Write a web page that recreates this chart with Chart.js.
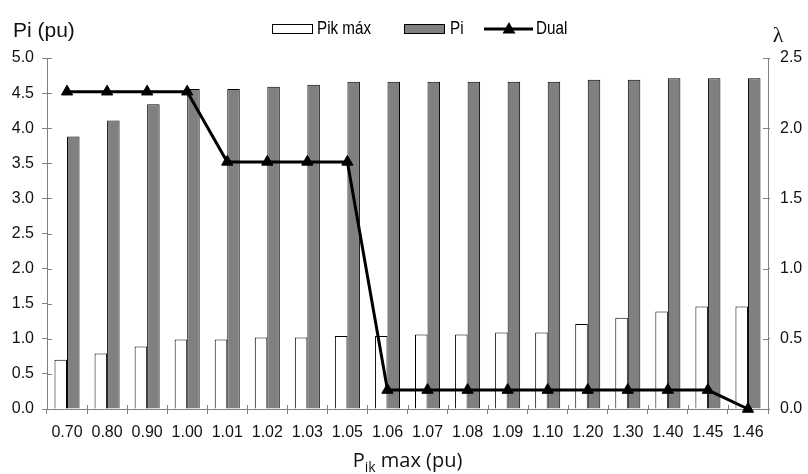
<!DOCTYPE html>
<html>
<head>
<meta charset="utf-8">
<script src="https://cdn.jsdelivr.net/npm/chart.js@4.4.1/dist/chart.umd.min.js"></script>
<style>
  html, body { margin: 0; padding: 0; background: #fff; }
  #wrap { width: 808px; height: 474px; }
</style>
</head>
<body>
<div id="wrap"><canvas id="piChart" width="808" height="474"></canvas></div>
<script>
const categories = ['0.70', '0.80', '0.90', '1.00', '1.01', '1.02', '1.03', '1.05', '1.06',
  '1.07', '1.08', '1.09', '1.10', '1.20', '1.30', '1.40', '1.45', '1.46'];
const pikMax = [0.70, 0.79, 0.89, 0.99, 0.99, 1.02, 1.02, 1.04, 1.04,
  1.06, 1.06, 1.09, 1.09, 1.21, 1.30, 1.39, 1.46, 1.46];
const pi = [3.88, 4.11, 4.34, 4.56, 4.56, 4.59, 4.62, 4.66, 4.66,
  4.66, 4.66, 4.66, 4.66, 4.69, 4.69, 4.71, 4.71, 4.71];
const dual = [2.26, 2.26, 2.26, 2.26, 1.76, 1.76, 1.76, 1.76, 0.135,
  0.135, 0.135, 0.135, 0.135, 0.135, 0.135, 0.135, 0.135, 0.0];
const leftTicks = { min: 0, max: 5, step: 0.5 };
const rightTicks = { min: 0, max: 2.5, step: 0.5 };

const AXIS_GRAY = '#808080';
const BAR_GRAY = '#808080';
const SANS = 'Liberation Sans';

// small tick marks that poke into the plot as well as out of it
const crossTicks = {
  id: 'crossTicks',
  afterDatasetsDraw(chart) {
    const { ctx, scales } = chart;
    const { x, y, y2 } = scales;
    ctx.save();
    ctx.strokeStyle = AXIS_GRAY;
    ctx.lineWidth = 1;
    ctx.beginPath();
    y.ticks.forEach((t, i) => {
      const py = Math.round(y.getPixelForTick(i)) + 0.5;
      ctx.moveTo(y.right, py);
      ctx.lineTo(y.right + 5, py);
    });
    y2.ticks.forEach((t, i) => {
      const py = Math.round(y2.getPixelForTick(i)) + 0.5;
      ctx.moveTo(y2.left, py);
      ctx.lineTo(y2.left - 5, py);
    });
    const w = (x.right - x.left) / categories.length;
    for (let k = 1; k < categories.length; k++) {
      const px = Math.round(x.left + k * w) + 0.5;
      ctx.moveTo(px, x.top);
      ctx.lineTo(px, x.top - 4);
    }
    ctx.stroke();
    ctx.restore();
  }
};

// axis titles and the legend row
const annotations = {
  id: 'annotations',
  afterDraw(chart) {
    const { ctx, chartArea } = chart;
    ctx.save();
    ctx.fillStyle = '#111';

    ctx.font = '21px "' + SANS + '"';
    ctx.textBaseline = 'alphabetic';
    ctx.textAlign = 'left';
    ctx.fillText('Pi (pu)', 13, 37);

    ctx.font = '22px "Liberation Serif"';
    ctx.textAlign = 'center';
    ctx.fillText('λ', 778, 42);

    // x title with subscript
    ctx.font = '20px "Open Sans"';
    ctx.textAlign = 'left';
    const main = 'P';
    const sub = 'ik';
    const rest = ' max (pu)';
    const wMain = ctx.measureText(main).width;
    const wRest = ctx.measureText(rest).width;
    ctx.font = '14px "Open Sans"';
    const wSub = ctx.measureText(sub).width;
    const total = wMain + wSub + wRest;
    let tx = (chartArea.left + chartArea.right) / 2 - total / 2;
    const base = 467;
    ctx.font = '20px "Open Sans"';
    ctx.fillText(main, tx, base);
    tx += wMain;
    ctx.font = '14px "Open Sans"';
    ctx.fillText(sub, tx, base + 5);
    tx += wSub;
    ctx.font = '20px "Open Sans"';
    ctx.fillText(rest, tx, base);

    // legend
    const ly = 29;
    ctx.lineWidth = 1;
    ctx.strokeStyle = '#000';
    ctx.fillStyle = '#fff';
    ctx.fillRect(272.5, 24.5, 40, 9);
    ctx.strokeRect(272.5, 24.5, 40, 9);
    ctx.fillStyle = BAR_GRAY;
    ctx.fillRect(404.5, 24.5, 40, 9);
    ctx.strokeRect(404.5, 24.5, 40, 9);

    ctx.beginPath();
    ctx.lineWidth = 3;
    ctx.moveTo(484, ly);
    ctx.lineTo(533, ly);
    ctx.stroke();
    ctx.fillStyle = '#000';
    ctx.beginPath();
    ctx.moveTo(509, ly - 7);
    ctx.lineTo(515.5, ly + 4.5);
    ctx.lineTo(502.5, ly + 4.5);
    ctx.closePath();
    ctx.fill();

    const narrow = (text, x0) => {
      ctx.save();
      ctx.translate(x0, ly);
      ctx.scale(0.8, 1);
      ctx.font = '19px "' + SANS + '"';
      ctx.textAlign = 'left';
      ctx.textBaseline = 'middle';
      ctx.fillStyle = '#000';
      ctx.fillText(text, 0, 0);
      ctx.restore();
    };
    narrow('Pik máx', 317);
    narrow('Pi', 450);
    narrow('Dual', 536);
    ctx.restore();
  }
};

function axisTickFont() {
  return { family: SANS, size: 16 };
}

function renderChart() {
  const ctx = document.getElementById('piChart').getContext('2d');
  new Chart(ctx, {
    type: 'bar',
    data: {
      labels: categories,
      datasets: [
        {
          type: 'line',
          label: 'Dual',
          data: dual,
          yAxisID: 'y2',
          borderColor: '#000',
          backgroundColor: '#000',
          borderWidth: 3,
          tension: 0,
          pointStyle: 'triangle',
          pointRadius: 6.5,
          pointBackgroundColor: '#000',
          pointBorderColor: '#000',
          pointBorderWidth: 1,
          clip: false,
          order: 0
        },
        {
          label: 'Pik máx',
          data: pikMax,
          yAxisID: 'y',
          backgroundColor: '#fff',
          borderColor: '#000',
          borderWidth: 1,
          categoryPercentage: 0.625,
          barPercentage: 1.0,
          order: 1
        },
        {
          label: 'Pi',
          data: pi,
          yAxisID: 'y',
          backgroundColor: BAR_GRAY,
          borderColor: '#000',
          borderWidth: 1,
          categoryPercentage: 0.625,
          barPercentage: 1.0,
          order: 1
        }
      ]
    },
    options: {
      responsive: false,
      animation: false,
      layout: { padding: { top: 58, right: 0, bottom: 0, left: 0 } },
      plugins: {
        legend: { display: false },
        title: { display: false },
        tooltip: { enabled: false }
      },
      scales: {
        x: {
          offset: true,
          grid: { offset: true, drawOnChartArea: false, tickLength: 5, color: AXIS_GRAY },
          border: { color: AXIS_GRAY },
          ticks: { font: axisTickFont(), color: '#111', padding: 9, maxRotation: 0, autoSkip: false },
          afterFit: s => { s.height = 65; }
        },
        y: {
          position: 'left',
          min: leftTicks.min,
          max: leftTicks.max,
          grid: { drawOnChartArea: false, tickLength: 5, color: AXIS_GRAY },
          border: { color: AXIS_GRAY },
          ticks: { stepSize: leftTicks.step, font: axisTickFont(), color: '#111', padding: 8,
            callback: v => v.toFixed(1) },
          afterFit: s => { s.width = 47; }
        },
        y2: {
          position: 'right',
          min: rightTicks.min,
          max: rightTicks.max,
          grid: { drawOnChartArea: false, tickLength: 2, color: AXIS_GRAY },
          border: { color: AXIS_GRAY },
          ticks: { stepSize: rightTicks.step, font: axisTickFont(), color: '#111', padding: 10,
            callback: v => v.toFixed(1) },
          afterFit: s => { s.width = 40; }
        }
      }
    },
    plugins: [crossTicks, annotations]
  });
}

renderChart();
</script>
</body>
</html>
